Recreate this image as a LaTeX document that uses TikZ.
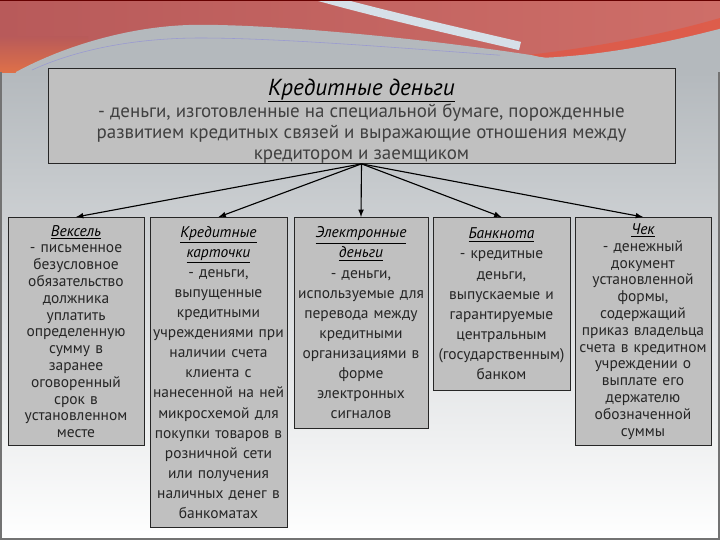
\documentclass[tikz,border=0pt]{standalone}
\usepackage{fontspec}
\setmainfont{PT Sans}
\usepackage{tikz}
\definecolor{boxgray}{RGB}{192,192,192}
\definecolor{wavered}{RGB}{184,90,90}
\definecolor{waveorange}{RGB}{222,112,72}
\definecolor{wavepink}{RGB}{206,110,104}
\definecolor{waveband}{RGB}{228,86,64}
\definecolor{wavegray}{RGB}{180,185,189}
\definecolor{stripe}{RGB}{214,224,232}
\newcommand{\tikzKindTitle}[1]{\textcolor{black}{\textit{\underline{#1}}}}

\begin{document}
\begin{tikzpicture}[semithick, ->, >=latex,
  kind/.style={draw=black!85, fill=boxgray, anchor=north, align=center, inner sep=0pt, text=black!85},
  tight/.style={font=\fontsize{11}{11.95}\selectfont},
  loose/.style={font=\fontsize{11}{14.3}\selectfont}]

  \useasboundingbox (0,0) rectangle (18,-13.5);
  % slide background
  \shade [top color=wavegray, bottom color=white] (0,-1.8) rectangle (18,-13.5);
  \shade [left color=wavered, right color=wavepink] (0,0) rectangle (18,-1.8);
  \shade [bottom color=waveorange, top color=wavered] (0,-0.9) rectangle (2.2,-1.8);
  \fill [waveband, opacity=0.7] (12.5,-1.45) .. controls (15,-1.2) and (16.8,-0.8) .. (18,-0.45)
    -- (18,-0.75) .. controls (16.8,-1.05) and (15,-1.45) .. (13.5,-1.5) -- cycle;
  \fill [wavegray] (0.4,-1.8) .. controls (1.6,-1.15) and (3.3,-0.62) .. (5,-0.62)
    .. controls (7,-0.62) and (10.5,-0.95) .. (13.3,-1.38) .. controls (13.6,-1.45) .. (14,-1.42)
    .. controls (15.5,-1.32) and (17,-0.98) .. (18,-0.72) -- (18,-1.82) -- (0.4,-1.82) -- cycle;
  \draw [-, stripe, line width=6pt] (7.9,0.1) .. controls (9.5,-0.35) and (11.5,-0.8) .. (13,-1.15);
  \draw [-, black!45!blue!40, thin] (0.8,-1.75) .. controls (2,-1.2) and (3.5,-0.95) .. (5,-0.95)
    .. controls (7,-0.95) and (10,-1.2) .. (12.5,-1.38);
  \draw [-, black!60!red, line width=1.5pt] (0,0) -- (18,0);
  \draw [-, black!55, line width=1.2pt] (0.03,-1.8) -- (0.03,-13.47) -- (17.97,-13.47) -- (17.97,-1.8);

  \node [kind, font=\fontsize{13.5}{14.9}\selectfont, text=black!75, minimum width=15.675cm, minimum height=2.375cm] (main) at (9.0375,-1.7)
    {\rule{0pt}{19pt}{\fontsize{16.5}{14.9}\selectfont\tikzKindTitle{Кредитные деньги}}\\
     - деньги, изготовленные на специальной бумаге, порожденные\\
     развитием кредитных связей и выражающие отношения между\\
     кредитором и заемщиком};

  \node [kind, tight, minimum width=3.4cm, minimum height=5.7cm, text width=3.4cm] (veks) at (1.9,-5.425)
    {\tikzKindTitle{Вексель}\\ - письменное\\ безусловное\\ обязательство\\ должника\\ уплатить\\ определенную\\
     сумму в\\ заранее\\ оговоренный\\ срок в\\ установленном\\ месте};
  \node [kind, loose, minimum width=3.425cm, minimum height=7.75cm, text width=3.425cm] (kart) at (5.4625,-5.425)
    {\tikzKindTitle{Кредитные}\\ \tikzKindTitle{карточки}\\ - деньги,\\ выпущенные\\ кредитными\\ учреждениями при\\
     наличии счета\\ клиента с\\ нанесенной на ней\\ микросхемой для\\ покупки товаров в\\ розничной сети\\
     или получения\\ наличных денег в\\ банкоматах};
  \node [kind, loose, minimum width=3.35cm, minimum height=5.275cm, text width=3.35cm] (elek) at (9.025,-5.425)
    {\tikzKindTitle{Электронные}\\ \tikzKindTitle{деньги}\\ - деньги,\\ используемые для\\ перевода между\\
     кредитными\\ организациями в\\ форме\\ электронных\\ сигналов};
  \node [kind, loose, minimum width=3.425cm, minimum height=4.325cm, text width=3.425cm] (bank) at (12.5375,-5.425)
    {\tikzKindTitle{Банкнота}\\ - кредитные\\ деньги,\\ выпускаемые и\\ гарантируемые\\ центральным\\
     (государственным)\\ банком};
  \node [kind, tight, minimum width=3.4cm, minimum height=5.7cm, text width=3.4cm] (chek) at (16.075,-5.425)
    {\tikzKindTitle{Чек}\\ - денежный\\ документ\\ установленной\\ формы,\\ содержащий\\ приказ владельца\\
     счета в кредитном\\ учреждении о\\ выплате его\\ держателю\\ обозначенной\\ суммы};

  \path [thick] (main.south) edge (veks.north);
  \path [thick] (main.south) edge (kart.north);
  \path [thick] (main.south) edge (elek.north);
  \path [thick] (main.south) edge (bank.north);
  \path [thick] (main.south) edge (chek.north);
\end{tikzpicture}
\end{document}
